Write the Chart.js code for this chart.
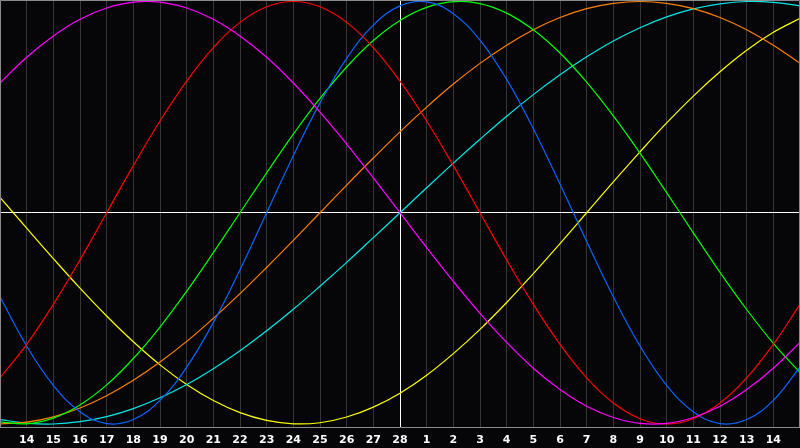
<!DOCTYPE html>
<html>
<head>
<meta charset="utf-8">
<script src="https://cdn.jsdelivr.net/npm/chart.js@4"></script>
<style>
  html, body { margin: 0; padding: 0; background: #060609; }
  canvas { display: block; }
</style>
</head>
<body>
<canvas id="bioChart" width="800" height="448"></canvas>
<script>
// day labels, first and last slot sit on the frame edges (no label)
const dayLabels = ["", "14", "15", "16", "17", "18", "19", "20", "21", "22", "23", "24", "25", "26", "27", "28",
    "1", "2", "3", "4", "5", "6", "7", "8", "9", "10", "11", "12", "13", "14", ""];

const magenta = [0.614, 0.736, 0.837, 0.916, 0.969, 0.997, 0.997, 0.969, 0.916, 0.837, 0.736, 0.614, 0.476, 0.325, 0.165, 0,
    -0.165, -0.325, -0.476, -0.614, -0.736, -0.837, -0.916, -0.969, -0.997, -0.997, -0.969, -0.916, -0.837, -0.736, -0.614];

const red = [-0.782, -0.623, -0.434, -0.223, 0, 0.223, 0.434, 0.623, 0.782, 0.901, 0.975, 1, 0.975, 0.901, 0.782, 0.623,
    0.434, 0.223, 0, -0.223, -0.434, -0.623, -0.782, -0.901, -0.975, -1, -0.975, -0.901, -0.782, -0.623, -0.434];

const blue = [-0.398, -0.631, -0.817, -0.942, -0.998, -0.979, -0.888, -0.731, -0.520, -0.270, 0, 0.270, 0.520, 0.731, 0.888, 0.979,
    0.998, 0.942, 0.817, 0.631, 0.398, 0.136, -0.136, -0.398, -0.631, -0.817, -0.942, -0.998, -0.979, -0.888, -0.731];

const green = [-0.990, -0.999, -0.972, -0.910, -0.815, -0.690, -0.541, -0.372, -0.189, 0, 0.189, 0.372, 0.541, 0.690, 0.815, 0.910,
    0.972, 0.999, 0.990, 0.945, 0.866, 0.756, 0.618, 0.458, 0.282, 0.095, -0.095, -0.282, -0.458, -0.618, -0.756];

const orange = [-1, -0.991, -0.966, -0.924, -0.866, -0.793, -0.707, -0.609, -0.5, -0.383, -0.259, -0.131, 0, 0.131, 0.259, 0.383,
    0.5, 0.609, 0.707, 0.793, 0.866, 0.924, 0.966, 0.991, 1, 0.991, 0.966, 0.924, 0.866, 0.793, 0.707];

const cyan = [-0.979, -0.996, -1, -0.989, -0.965, -0.927, -0.876, -0.813, -0.738, -0.653, -0.559, -0.457, -0.348, -0.235, -0.118, 0,
    0.118, 0.235, 0.348, 0.457, 0.559, 0.653, 0.738, 0.813, 0.876, 0.927, 0.965, 0.989, 1, 0.996, 0.979];

const yellow = [0.073, -0.073, -0.217, -0.357, -0.489, -0.611, -0.720, -0.813, -0.889, -0.946, -0.983, -0.999, -0.994, -0.967, -0.920, -0.854,
    -0.769, -0.667, -0.552, -0.425, -0.288, -0.146, 0, 0.146, 0.288, 0.425, 0.552, 0.667, 0.769, 0.854, 0.920];

const todayIndex = 15;

function line(values, color) {
    return {
        data: values,
        borderColor: color,
        borderWidth: 1.2,
        pointRadius: 0,
        pointHoverRadius: 0,
        tension: 0.4,
        fill: false
    };
}

/*
 gray frame round the plot area
*/
const framePlugin = {
    id: "frame",
    afterDraw(chart) {
        const a = chart.chartArea;
        const c = chart.ctx;
        c.save();
        c.strokeStyle = "#8a8a8a";
        c.lineWidth = 1;
        c.beginPath();
        c.moveTo(a.left + 0.5, a.bottom);
        c.lineTo(a.left + 0.5, a.top + 0.5);
        c.lineTo(a.right - 0.5, a.top + 0.5);
        c.lineTo(a.right - 0.5, a.bottom);
        c.stroke();
        c.restore();
    }
};

const ctx = document.getElementById("bioChart").getContext("2d");

new Chart(ctx, {
    type: "line",
    data: {
        labels: dayLabels,
        datasets: [
            line(magenta, "#ff00ff"),
            line(red, "#ff0000"),
            line(blue, "#0a64ff"),
            line(green, "#00ff00"),
            line(orange, "#ff8000"),
            line(cyan, "#00e8e8"),
            line(yellow, "#ffff00")
        ]
    },
    options: {
        responsive: false,
        animation: false,
        layout: { autoPadding: false, padding: { left: 0, right: 0, top: 0, bottom: 1 } },
        plugins: {
            legend: { display: false },
            tooltip: { enabled: false }
        },
        scales: {
            x: {
                offset: false,
                grid: {
                    drawTicks: true,
                    tickLength: 6,
                    tickColor: "transparent",
                    color: (c) => c.index === todayIndex ? "#ffffff" : "#363636"
                },
                border: { color: "#8a8a8a", width: 1 },
                ticks: {
                    autoSkip: false,
                    maxRotation: 0,
                    padding: 0,
                    color: "#ffffff",
                    font: { family: "DejaVu Sans", size: 11, weight: "bold" }
                }
            },
            y: {
                min: -1.018,
                max: 1.007,
                ticks: { display: false, stepSize: 0.5 },
                border: { display: false },
                grid: {
                    drawTicks: false,
                    color: (c) => c.tick.value === 0 ? "#ffffff" : "transparent"
                }
            }
        }
    },
    plugins: [framePlugin]
});
</script>
</body>
</html>
